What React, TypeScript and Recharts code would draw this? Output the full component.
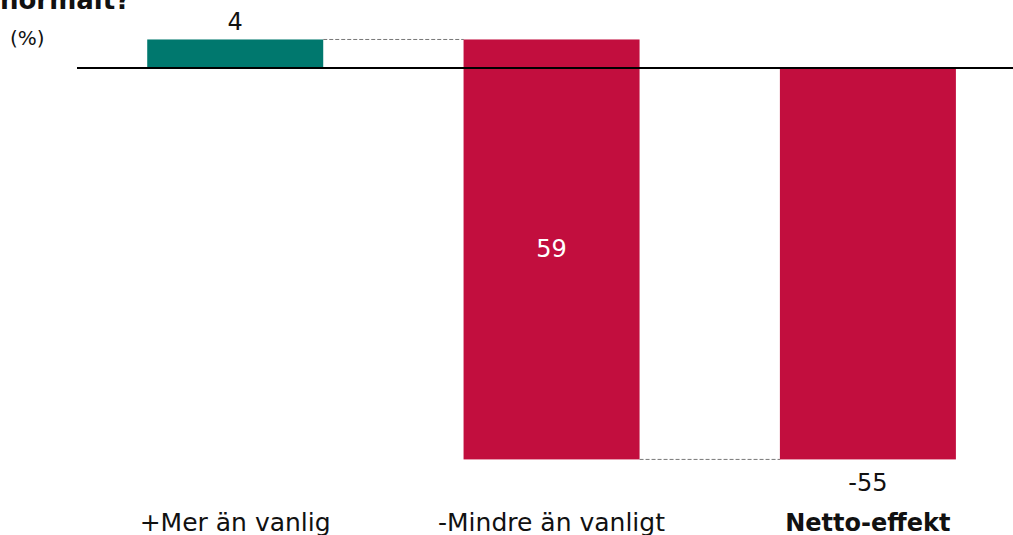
import { BarChart, XAxis, YAxis, Bar, ReferenceLine, LabelList } from "recharts"

const categories = ["+Mer än vanlig", "-Mindre än vanligt", "Netto-effekt"]
const values = [4, -59, -55]
const labels = ["4", "59", "-55"]
const colors = ["#00786E", "#C20E3E", "#C20E3E"]
const isTotal = [false, false, true]

// waterfall: each step starts where the previous ended, totals start at 0
let running = 0
const data = categories.map((name, i) => {
  const start = isTotal[i] ? 0 : running
  const end = isTotal[i] ? values[i] : running + values[i]
  running = end
  return {
    name,
    range: [Math.min(start, end), Math.max(start, end)],
    end,
    label: labels[i],
    color: colors[i],
  }
})

const GAP = 0.222
const FONT = "DejaVu Sans, Verdana, sans-serif"

const StepShape = (props: any) => {
  const { x, y, width, height, index, payload } = props
  const band = width / (1 - 2 * GAP)
  const lineY = payload.end >= 0 ? y : y + height
  const last = index === data.length - 1
  return (
    <g>
      <rect x={x} y={y} width={width} height={height} fill={payload.color} />
      {!last && (
        <line x1={x + width} x2={x + band} y1={lineY} y2={lineY} stroke="#777" strokeDasharray="4 2" strokeWidth={1} />
      )}
    </g>
  )
}

const StepLabel = (props: any) => {
  const { x, y, width, height, index } = props
  const d = data[index]
  const cx = x + width / 2
  if (index === 1) {
    return <text x={cx} y={y + height / 2} fill="#fff" textAnchor="middle" dominantBaseline="central" fontSize={24} fontFamily={FONT}>{d.label}</text>
  }
  if (d.end >= 0) {
    return <text x={cx} y={y - 17} fill="#111" textAnchor="middle" dominantBaseline="central" fontSize={24} fontFamily={FONT}>{d.label}</text>
  }
  return <text x={cx} y={y + height + 24} fill="#111" textAnchor="middle" dominantBaseline="central" fontSize={24} fontFamily={FONT}>{d.label}</text>
}

const Tick = (props: any) => {
  const { x, y, payload } = props
  const bold = isTotal[payload.index]
  return (
    <text x={x} y={y + 28} textAnchor="middle" fontSize={bold ? 24 : 25} fontFamily={FONT} fontWeight={bold ? "bold" : "normal"} fill="#111">
      {payload.value}
    </text>
  )
}

export default function App() {
  return (
    <div style={{ position: "absolute", left: 0, top: 0, width: 1013, height: 535, overflow: "hidden", background: "#fff" }}>
      <div style={{ position: "absolute", left: 0, top: -15, fontFamily: FONT, fontWeight: "bold", fontSize: 26, lineHeight: "30px", color: "#111", whiteSpace: "nowrap" }}>normalt?</div>
      <div style={{ position: "absolute", left: 10, top: 26, fontFamily: FONT, fontSize: 20, lineHeight: "24px", color: "#111" }}>(%)</div>
      <BarChart
        width={1030}
        height={535}
        data={data}
        margin={{ top: 11, right: 4, left: 77, bottom: 0 }}
        barCategoryGap={`${GAP * 100}%`}
      >
        <XAxis dataKey="name" axisLine={false} tickLine={false} height={40} tick={<Tick />} interval={0} />
        <YAxis hide domain={[-60, 8]} />
        <Bar dataKey="range" shape={<StepShape />} isAnimationActive={false}>
          <LabelList dataKey="label" content={<StepLabel />} />
        </Bar>
        <ReferenceLine y={0} stroke="#000" strokeWidth={2} />
      </BarChart>
    </div>
  )
}
